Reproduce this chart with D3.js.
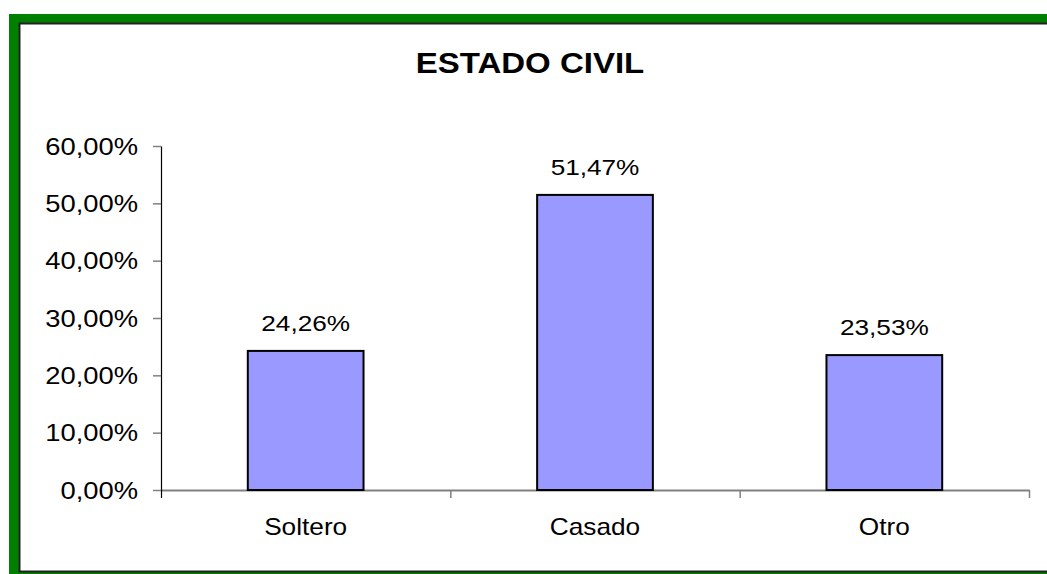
<!DOCTYPE html>
<html>
<head>
<meta charset="utf-8">
<script src="https://d3js.org/d3.v7.min.js"></script>
<style>
  body { margin: 0; background: #fff; }
  text { font-family: 'Liberation Sans', Arial, sans-serif; fill: #000; }
</style>
</head>
<body>
<div id="chart"></div>
<script>
const TITLE = 'ESTADO CIVIL';
const categories = ['Soltero', 'Casado', 'Otro'];
const values = [24.26, 51.47, 23.53];
const yTicks = [0, 10, 20, 30, 40, 50, 60];

const W = 1047, H = 574;
const PLOT = { left: 161, right: 1029, top: 146, bottom: 490 };
const STRETCH = 1.19;   // the original text is drawn wider than Arial

const COLORS = {
  frame: '#008000',
  edge:  '#222',
  bar:   '#9999ff',
  axis:  '#808080'
};

const es = d3.formatLocale({ decimal: ',', thousands: '.', grouping: [3], currency: ['', '€'] });
const pct = v => es.format('.2f')(v) + '%';

let svg = d3.select('#chart').append('svg')
  .attr('width', W)
  .attr('height', H);

// Frame: green band with dark inner edge
svg.append('rect')
  .attr('x', 9).attr('y', 14)
  .attr('width', W + 50).attr('height', H + 50)
  .style('fill', COLORS.frame);
svg.append('rect')
  .attr('x', 19.5).attr('y', 23.5)
  .attr('width', W + 50).attr('height', 548)
  .style('fill', '#fff')
  .style('stroke', COLORS.edge)
  .style('stroke-width', 2);

// Title
svg.append('text')
  .text(TITLE)
  .attr('font-size', 30)
  .attr('font-weight', 'bold')
  .attr('text-anchor', 'middle')
  .attr('transform', `translate(530,73) scale(1.1,1)`);

let x = d3.scaleBand()
  .domain(categories)
  .range([PLOT.left, PLOT.right])
  .paddingInner(0.6)
  .paddingOuter(0.3);

let y = d3.scaleLinear()
  .domain([0, 60])
  .range([PLOT.bottom, PLOT.top]);

let edges = d3.scaleLinear()
  .domain([0, categories.length])
  .range([PLOT.left, PLOT.right]);

// Category boundary ticks + x axis line
let xAxis = svg.append('g')
  .attr('transform', `translate(0,${PLOT.bottom})`)
  .call(d3.axisBottom(edges)
    .tickValues(d3.range(categories.length + 1))
    .tickSize(8)
    .tickSizeOuter(0)
    .tickFormat(''));
xAxis.select('.domain').style('stroke', COLORS.axis).style('stroke-width', 2);
xAxis.selectAll('.tick line').style('stroke', COLORS.axis).style('stroke-width', 1.5);
xAxis.select('.tick line').style('stroke', '#000').style('stroke-width', 1.2);

// Y axis
let yAxis = svg.append('g')
  .attr('transform', `translate(${PLOT.left},0)`)
  .call(d3.axisLeft(y)
    .tickValues(yTicks)
    .tickSize(8)
    .tickSizeOuter(0)
    .tickFormat(pct));
yAxis.select('.domain').style('stroke', '#000').style('stroke-width', 1.2);
yAxis.selectAll('.tick line').style('stroke', COLORS.axis).style('stroke-width', 1.5);
yAxis.selectAll('.tick text')
  .attr('font-size', 23)
  .attr('font-family', "'Liberation Sans', Arial, sans-serif")
  .style('fill', '#000')
  .attr('x', null)
  .attr('dy', '0.36em')
  .attr('transform', `translate(-23,0) scale(${STRETCH},1)`);

// Bars
svg.selectAll('.bar')
    .data(values)
  .enter().append('rect')
    .attr('class', 'bar')
    .attr('x', (d, i) => x(categories[i]))
    .attr('y', d => y(d))
    .attr('width', x.bandwidth())
    .attr('height', d => y(0) - y(d))
    .style('fill', COLORS.bar)
    .style('stroke', '#000')
    .style('stroke-width', 2);

// Value labels
svg.selectAll('.value')
    .data(values)
  .enter().append('text')
    .attr('class', 'value')
    .text(d => pct(d))
    .attr('font-size', 22)
    .attr('text-anchor', 'middle')
    .attr('transform', (d, i) =>
      `translate(${x(categories[i]) + x.bandwidth() / 2},${y(d) - 20}) scale(${STRETCH},1)`);

// Category labels
svg.selectAll('.cat')
    .data(categories)
  .enter().append('text')
    .attr('class', 'cat')
    .text(d => d)
    .attr('font-size', 23)
    .attr('text-anchor', 'middle')
    .attr('transform', d =>
      `translate(${x(d) + x.bandwidth() / 2},535) scale(1.14,1)`);
</script>
</body>
</html>
